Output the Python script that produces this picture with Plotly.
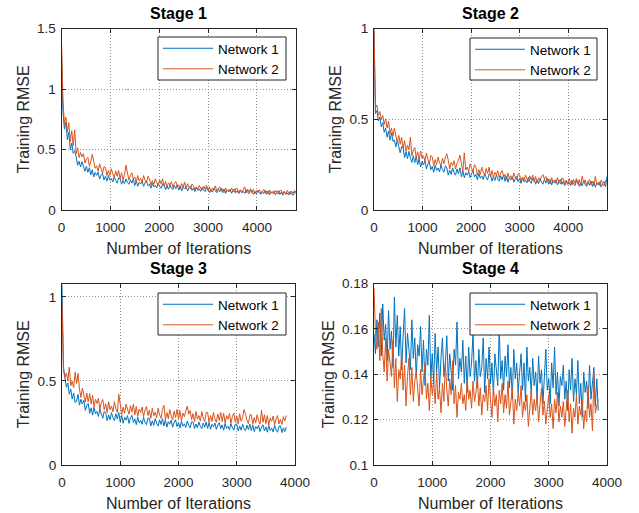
import plotly.graph_objects as go

# ---------------- data ----------------
STAGE_TITLES = ["Stage 1", "Stage 2", "Stage 3", "Stage 4"]
SERIES_NAMES = ["Network 1", "Network 2"]
X_LABEL = "Number of Iterations"
Y_LABEL = "Training RMSE"

ITER_STEP_S12 = 30   # iterations between samples, stages 1-2
ITER_STEP_S34 = 25   # iterations between samples, stages 3-4

S1_N1 = [1.302, 0.812, 0.668, 0.724, 0.582, 0.641, 0.498, 0.552, 0.468, 0.489,
         0.440, 0.370, 0.402, 0.356, 0.400, 0.351, 0.320, 0.361, 0.312, 0.350,
         0.290, 0.333, 0.273, 0.310, 0.286, 0.313, 0.255, 0.287, 0.302, 0.248,
         0.280, 0.238, 0.286, 0.246, 0.261, 0.232, 0.277, 0.243, 0.222, 0.265,
         0.257, 0.213, 0.244, 0.217, 0.257, 0.228, 0.213, 0.250, 0.222, 0.257,
         0.203, 0.240, 0.196, 0.229, 0.214, 0.238, 0.196, 0.225, 0.240, 0.200,
         0.212, 0.180, 0.220, 0.190, 0.204, 0.182, 0.220, 0.194, 0.180, 0.216,
         0.208, 0.168, 0.196, 0.172, 0.208, 0.182, 0.168, 0.202, 0.176, 0.208,
         0.164, 0.198, 0.158, 0.188, 0.174, 0.196, 0.158, 0.184, 0.198, 0.162,
         0.181, 0.152, 0.188, 0.161, 0.174, 0.154, 0.188, 0.165, 0.152, 0.184,
         0.180, 0.144, 0.169, 0.148, 0.180, 0.157, 0.144, 0.175, 0.151, 0.180,
         0.143, 0.174, 0.138, 0.165, 0.152, 0.172, 0.138, 0.161, 0.174, 0.142,
         0.161, 0.135, 0.167, 0.143, 0.154, 0.137, 0.167, 0.146, 0.135, 0.164,
         0.162, 0.130, 0.152, 0.133, 0.162, 0.141, 0.130, 0.157, 0.136, 0.162,
         0.131, 0.158, 0.126, 0.150, 0.139, 0.156, 0.126, 0.147, 0.158, 0.129,
         0.148, 0.122, 0.154, 0.130, 0.141, 0.124, 0.154, 0.133, 0.122, 0.151,
         0.136]
S1_N2 = [1.395, 0.902, 0.712, 0.768, 0.642, 0.721, 0.568, 0.655, 0.531, 0.662,
         0.465, 0.514, 0.433, 0.475, 0.439, 0.466, 0.388, 0.423, 0.436, 0.362,
         0.401, 0.460, 0.404, 0.345, 0.365, 0.320, 0.382, 0.330, 0.301, 0.358,
         0.352, 0.285, 0.327, 0.286, 0.341, 0.296, 0.271, 0.323, 0.279, 0.327,
         0.257, 0.308, 0.248, 0.293, 0.372, 0.305, 0.248, 0.287, 0.308, 0.254,
         0.273, 0.225, 0.285, 0.240, 0.261, 0.228, 0.285, 0.246, 0.225, 0.279,
         0.258, 0.206, 0.242, 0.211, 0.258, 0.224, 0.206, 0.250, 0.216, 0.258,
         0.195, 0.236, 0.188, 0.224, 0.207, 0.234, 0.188, 0.219, 0.236, 0.193,
         0.209, 0.174, 0.218, 0.185, 0.232, 0.176, 0.218, 0.189, 0.174, 0.214,
         0.204, 0.164, 0.192, 0.168, 0.204, 0.178, 0.164, 0.198, 0.172, 0.204,
         0.158, 0.192, 0.152, 0.182, 0.168, 0.200, 0.152, 0.178, 0.192, 0.156,
         0.175, 0.146, 0.182, 0.155, 0.168, 0.148, 0.182, 0.159, 0.146, 0.178,
         0.176, 0.140, 0.165, 0.144, 0.176, 0.192, 0.140, 0.171, 0.147, 0.176,
         0.139, 0.170, 0.134, 0.161, 0.148, 0.168, 0.134, 0.157, 0.170, 0.138,
         0.158, 0.131, 0.165, 0.139, 0.151, 0.133, 0.165, 0.143, 0.131, 0.162,
         0.162, 0.128, 0.152, 0.131, 0.162, 0.140, 0.128, 0.157, 0.135, 0.162,
         0.148]

S2_N1 = [0.985, 0.532, 0.548, 0.491, 0.512, 0.458, 0.481, 0.428, 0.452, 0.401,
         0.435, 0.385, 0.425, 0.378, 0.385, 0.348, 0.385, 0.343, 0.315, 0.350,
         0.345, 0.289, 0.319, 0.283, 0.323, 0.285, 0.262, 0.299, 0.261, 0.295,
         0.250, 0.284, 0.237, 0.268, 0.250, 0.271, 0.226, 0.253, 0.265, 0.222,
         0.240, 0.208, 0.248, 0.218, 0.232, 0.210, 0.248, 0.222, 0.208, 0.244,
         0.232, 0.192, 0.220, 0.196, 0.232, 0.206, 0.192, 0.226, 0.200, 0.232,
         0.183, 0.214, 0.178, 0.205, 0.192, 0.212, 0.178, 0.201, 0.214, 0.182,
         0.195, 0.166, 0.202, 0.175, 0.188, 0.168, 0.202, 0.179, 0.166, 0.198,
         0.193, 0.159, 0.183, 0.162, 0.193, 0.171, 0.159, 0.188, 0.166, 0.193,
         0.158, 0.185, 0.153, 0.177, 0.166, 0.183, 0.153, 0.174, 0.185, 0.156,
         0.173, 0.147, 0.179, 0.155, 0.166, 0.149, 0.179, 0.158, 0.147, 0.176,
         0.174, 0.142, 0.164, 0.145, 0.174, 0.153, 0.142, 0.169, 0.148, 0.174,
         0.142, 0.168, 0.138, 0.161, 0.150, 0.167, 0.138, 0.158, 0.168, 0.141,
         0.158, 0.134, 0.164, 0.141, 0.152, 0.135, 0.164, 0.144, 0.134, 0.161,
         0.160, 0.130, 0.151, 0.133, 0.160, 0.140, 0.130, 0.156, 0.136, 0.160,
         0.130, 0.156, 0.126, 0.149, 0.138, 0.155, 0.126, 0.146, 0.156, 0.129,
         0.185]
S2_N2 = [0.998, 0.562, 0.578, 0.521, 0.542, 0.498, 0.521, 0.472, 0.502, 0.451,
         0.490, 0.420, 0.452, 0.406, 0.450, 0.401, 0.370, 0.411, 0.362, 0.400,
         0.340, 0.382, 0.321, 0.357, 0.332, 0.402, 0.299, 0.329, 0.344, 0.288,
         0.321, 0.276, 0.325, 0.284, 0.299, 0.268, 0.314, 0.278, 0.257, 0.301,
         0.292, 0.244, 0.278, 0.249, 0.292, 0.261, 0.244, 0.285, 0.254, 0.292,
         0.310, 0.274, 0.226, 0.262, 0.245, 0.272, 0.226, 0.257, 0.274, 0.302,
         0.245, 0.210, 0.315, 0.221, 0.236, 0.212, 0.254, 0.225, 0.210, 0.250,
         0.236, 0.192, 0.223, 0.196, 0.236, 0.207, 0.192, 0.229, 0.201, 0.236,
         0.184, 0.218, 0.178, 0.208, 0.194, 0.216, 0.178, 0.204, 0.218, 0.182,
         0.196, 0.166, 0.204, 0.175, 0.189, 0.168, 0.204, 0.179, 0.166, 0.200,
         0.193, 0.157, 0.182, 0.161, 0.193, 0.170, 0.157, 0.188, 0.164, 0.193,
         0.154, 0.185, 0.149, 0.176, 0.163, 0.183, 0.195, 0.172, 0.185, 0.153,
         0.171, 0.144, 0.178, 0.152, 0.164, 0.146, 0.178, 0.156, 0.144, 0.175,
         0.173, 0.139, 0.163, 0.142, 0.173, 0.151, 0.139, 0.168, 0.146, 0.173,
         0.141, 0.168, 0.136, 0.188, 0.149, 0.166, 0.136, 0.157, 0.168, 0.139,
         0.159, 0.133, 0.185, 0.141, 0.152, 0.135, 0.165, 0.144, 0.133, 0.162,
         0.155]

S3_N1 = [1.072, 0.582, 0.521, 0.462, 0.488, 0.421, 0.452, 0.392, 0.428, 0.371,
         0.380, 0.420, 0.356, 0.391, 0.363, 0.386, 0.325, 0.354, 0.366, 0.308,
         0.340, 0.297, 0.344, 0.305, 0.319, 0.289, 0.333, 0.299, 0.278, 0.320,
         0.312, 0.264, 0.298, 0.269, 0.312, 0.281, 0.264, 0.305, 0.274, 0.312,
         0.255, 0.296, 0.248, 0.284, 0.267, 0.294, 0.248, 0.279, 0.296, 0.253,
         0.275, 0.240, 0.284, 0.251, 0.266, 0.242, 0.284, 0.255, 0.240, 0.280,
         0.276, 0.232, 0.263, 0.236, 0.276, 0.247, 0.232, 0.269, 0.241, 0.276,
         0.232, 0.269, 0.225, 0.258, 0.243, 0.267, 0.225, 0.254, 0.269, 0.229,
         0.253, 0.221, 0.261, 0.231, 0.245, 0.223, 0.261, 0.235, 0.221, 0.257,
         0.256, 0.216, 0.244, 0.220, 0.256, 0.230, 0.216, 0.250, 0.224, 0.256,
         0.218, 0.252, 0.212, 0.242, 0.228, 0.250, 0.212, 0.238, 0.252, 0.216,
         0.239, 0.207, 0.247, 0.217, 0.231, 0.209, 0.247, 0.221, 0.207, 0.243,
         0.243, 0.203, 0.231, 0.207, 0.243, 0.217, 0.203, 0.237, 0.211, 0.243,
         0.205, 0.239, 0.199, 0.229, 0.215, 0.237, 0.199, 0.225, 0.239, 0.203,
         0.227, 0.195, 0.235, 0.205, 0.219, 0.197, 0.235, 0.209, 0.195, 0.231,
         0.233, 0.193, 0.221, 0.199, 0.226]
S3_N2 = [0.968, 0.562, 0.521, 0.548, 0.501, 0.582, 0.472, 0.498, 0.461, 0.552,
         0.485, 0.545, 0.451, 0.402, 0.458, 0.406, 0.375, 0.428, 0.376, 0.425,
         0.363, 0.414, 0.346, 0.391, 0.366, 0.397, 0.333, 0.372, 0.390, 0.329,
         0.364, 0.313, 0.377, 0.329, 0.351, 0.316, 0.377, 0.335, 0.313, 0.420,
         0.362, 0.302, 0.344, 0.308, 0.362, 0.323, 0.302, 0.353, 0.314, 0.362,
         0.297, 0.348, 0.288, 0.333, 0.312, 0.345, 0.288, 0.327, 0.348, 0.294,
         0.326, 0.278, 0.338, 0.293, 0.314, 0.281, 0.338, 0.299, 0.278, 0.332,
         0.355, 0.270, 0.312, 0.276, 0.330, 0.291, 0.270, 0.321, 0.282, 0.330,
         0.273, 0.324, 0.264, 0.309, 0.288, 0.321, 0.350, 0.303, 0.324, 0.270,
         0.306, 0.258, 0.318, 0.273, 0.294, 0.261, 0.318, 0.279, 0.258, 0.312,
         0.313, 0.253, 0.295, 0.259, 0.313, 0.274, 0.253, 0.304, 0.265, 0.313,
         0.258, 0.309, 0.249, 0.294, 0.273, 0.306, 0.249, 0.288, 0.309, 0.255,
         0.293, 0.245, 0.305, 0.260, 0.281, 0.330, 0.305, 0.266, 0.245, 0.299,
         0.299, 0.243, 0.282, 0.249, 0.299, 0.263, 0.243, 0.325, 0.254, 0.299,
         0.246, 0.294, 0.238, 0.280, 0.260, 0.291, 0.238, 0.274, 0.294, 0.244,
         0.272, 0.241, 0.288, 0.262, 0.295]

S4_N1 = [0.158, 0.149, 0.164, 0.152, 0.167, 0.148, 0.171, 0.155, 0.162, 0.146,
         0.168, 0.151, 0.159, 0.143, 0.174, 0.152, 0.166, 0.148, 0.161, 0.142,
         0.157, 0.169, 0.145, 0.158, 0.151, 0.142, 0.164, 0.147, 0.156, 0.139,
         0.153, 0.148, 0.161, 0.141, 0.155, 0.135, 0.151, 0.144, 0.166, 0.138,
         0.149, 0.136, 0.158, 0.141, 0.152, 0.134, 0.147, 0.156, 0.139, 0.145,
         0.157, 0.137, 0.149, 0.142, 0.133, 0.151, 0.144, 0.163, 0.138, 0.147,
         0.141, 0.155, 0.136, 0.148, 0.132, 0.152, 0.139, 0.145, 0.158, 0.137,
         0.146, 0.134, 0.151, 0.139, 0.143, 0.156, 0.132, 0.147, 0.138, 0.152,
         0.136, 0.145, 0.131, 0.149, 0.141, 0.135, 0.161, 0.138, 0.146, 0.133,
         0.148, 0.139, 0.153, 0.134, 0.143, 0.129, 0.151, 0.138, 0.145, 0.132,
         0.141, 0.149, 0.133, 0.145, 0.128, 0.152, 0.137, 0.143, 0.131, 0.147,
         0.135, 0.141, 0.129, 0.148, 0.136, 0.142, 0.127, 0.139, 0.151, 0.133,
         0.138, 0.127, 0.145, 0.134, 0.152, 0.131, 0.141, 0.126, 0.139, 0.135,
         0.144, 0.129, 0.137, 0.124, 0.142, 0.133, 0.147, 0.128, 0.138, 0.131,
         0.146, 0.127, 0.136, 0.121, 0.141, 0.132, 0.137, 0.125, 0.144, 0.129,
         0.135, 0.143, 0.126, 0.138, 0.124]
S4_N2 = [0.178, 0.158, 0.151, 0.163, 0.146, 0.169, 0.149, 0.141, 0.156, 0.137,
         0.151, 0.143, 0.139, 0.155, 0.134, 0.147, 0.128, 0.142, 0.138, 0.149,
         0.133, 0.144, 0.126, 0.139, 0.147, 0.131, 0.143, 0.128, 0.137, 0.141,
         0.135, 0.126, 0.142, 0.131, 0.138, 0.145, 0.129, 0.136, 0.124, 0.139,
         0.131, 0.137, 0.127, 0.141, 0.129, 0.134, 0.123, 0.136, 0.128, 0.145,
         0.133, 0.126, 0.138, 0.131, 0.146, 0.127, 0.135, 0.121, 0.132, 0.129,
         0.136, 0.127, 0.131, 0.124, 0.138, 0.129, 0.133, 0.125, 0.137, 0.128,
         0.132, 0.139, 0.126, 0.134, 0.122, 0.131, 0.128, 0.135, 0.124, 0.138,
         0.129, 0.121, 0.134, 0.126, 0.131, 0.119, 0.133, 0.127, 0.136, 0.123,
         0.131, 0.125, 0.137, 0.122, 0.128, 0.134, 0.118, 0.129, 0.124, 0.132,
         0.126, 0.135, 0.121, 0.128, 0.124, 0.131, 0.117, 0.127, 0.133, 0.122,
         0.129, 0.124, 0.131, 0.119, 0.126, 0.134, 0.122, 0.128, 0.118, 0.125,
         0.131, 0.121, 0.127, 0.116, 0.129, 0.123, 0.132, 0.119, 0.126, 0.121,
         0.128, 0.117, 0.124, 0.133, 0.119, 0.127, 0.114, 0.125, 0.121, 0.131,
         0.118, 0.126, 0.122, 0.129, 0.116, 0.124, 0.119, 0.135, 0.121, 0.127,
         0.115, 0.141, 0.123, 0.126, 0.129]

X_TICKS_S12 = [0, 1000, 2000, 3000, 4000]
X_TICKS_S34 = [0, 1000, 2000, 3000, 4000]
Y_TICKS_S1 = [0, 0.5, 1, 1.5]
Y_TICKS_S2 = [0, 0.5, 1]
Y_TICKS_S3 = [0, 0.5, 1]
Y_TICKS_S4 = [0.1, 0.12, 0.14, 0.16, 0.18]
Y_TICKTEXT_S1 = ["0", "0.5", "1", "1.5"]
Y_TICKTEXT_S2 = ["0", "0.5", "1"]
Y_TICKTEXT_S3 = ["0", "0.5", "1"]
Y_TICKTEXT_S4 = ["0.1", "0.12", "0.14", "0.16", "0.18"]

# ---------------- styling ----------------
W, H = 639, 513
BLUE = "#0072BD"
ORANGE = "#D95319"
AX_COL = "#262626"
FONT = "Liberation Sans, Arial, Helvetica, sans-serif"


def px_dom_x(a, b):
    return [a / W, b / W]


def px_dom_y(top, bottom):
    return [1 - bottom / H, 1 - top / H]


panels = [
    dict(title=STAGE_TITLES[0], n1=S1_N1, n2=S1_N2, step=ITER_STEP_S12, xr=[0, 4800],
         yr=[0, 1.5], xt=X_TICKS_S12, yt=Y_TICKS_S1, ytt=Y_TICKTEXT_S1,
         dx=px_dom_x(61.5, 296), dy=px_dom_y(28.5, 210), box=(158, 286, 37, 80)),
    dict(title=STAGE_TITLES[1], n1=S2_N1, n2=S2_N2, step=ITER_STEP_S12, xr=[0, 4800],
         yr=[0, 1.0], xt=X_TICKS_S12, yt=Y_TICKS_S2, ytt=Y_TICKTEXT_S2,
         dx=px_dom_x(374, 607), dy=px_dom_y(28.5, 210), box=(470, 597, 38, 80)),
    dict(title=STAGE_TITLES[2], n1=S3_N1, n2=S3_N2, step=ITER_STEP_S34, xr=[0, 4000],
         yr=[0, 1.08], xt=X_TICKS_S34, yt=Y_TICKS_S3, ytt=Y_TICKTEXT_S3,
         dx=px_dom_x(62, 295), dy=px_dom_y(283.5, 465), box=(158, 286, 293, 335)),
    dict(title=STAGE_TITLES[3], n1=S4_N1, n2=S4_N2, step=ITER_STEP_S34, xr=[0, 4000],
         yr=[0.1, 0.18], xt=X_TICKS_S34, yt=Y_TICKS_S4, ytt=Y_TICKTEXT_S4,
         dx=px_dom_x(374, 607), dy=px_dom_y(283.5, 465), box=(470, 597, 293, 335)),
]

fig = go.Figure()
layout = dict(
    width=W, height=H,
    margin=dict(l=0, r=0, t=0, b=0, pad=0, autoexpand=False),
    paper_bgcolor="white", plot_bgcolor="white",
    font=dict(family=FONT, size=13, color=AX_COL),
    showlegend=True,
    annotations=[], shapes=[],
)

for i, p in enumerate(panels):
    k = "" if i == 0 else str(i + 1)
    xa, ya = "x" + k, "y" + k
    legname = "legend" if i == 0 else "legend" + str(i + 1)
    for name, ys, col in ((SERIES_NAMES[0], p["n1"], BLUE), (SERIES_NAMES[1], p["n2"], ORANGE)):
        xs = [j * p["step"] for j in range(len(ys))]
        fig.add_trace(go.Scatter(x=xs, y=ys, mode="lines", name=name,
                                 line=dict(color=col, width=1),
                                 xaxis=xa, yaxis=ya, legend=legname))
    axis_common = dict(
        showline=True, linecolor=AX_COL, linewidth=1, mirror="ticks",
        ticks="inside", ticklen=4, tickcolor=AX_COL, tickwidth=1,
        showgrid=True, gridcolor="#8f8f8f", griddash="1px,2px", gridwidth=1,
        zeroline=False, tickfont=dict(family=FONT, size=13.5, color=AX_COL),
        fixedrange=True, automargin=False,
    )
    layout["xaxis" + k] = dict(
        axis_common, domain=p["dx"], range=p["xr"], anchor=ya,
        tickvals=p["xt"], ticktext=[str(v) for v in p["xt"]], ticklabelstandoff=5,
        title=dict(text=X_LABEL, font=dict(family=FONT, size=16, color=AX_COL), standoff=8),
    )
    layout["yaxis" + k] = dict(
        axis_common, domain=p["dy"], range=p["yr"], anchor=xa,
        tickvals=p["yt"], ticktext=p["ytt"], ticklabelstandoff=2,
        title=dict(text=Y_LABEL, font=dict(family=FONT, size=16, color=AX_COL), standoff=3),
    )
    bx0, bx1, by0, by1 = p["box"]
    # legend frame (white box with dark border), drawn above the curves
    layout["shapes"].append(dict(
        type="rect", xref="paper", yref="paper", layer="above",
        x0=bx0 / W, x1=bx1 / W, y0=1 - by1 / H, y1=1 - by0 / H,
        fillcolor="white", line=dict(color=AX_COL, width=1),
    ))
    layout[legname] = dict(
        x=bx0 / W, y=1 - (by0 - 4) / H, xanchor="left", yanchor="top",
        bgcolor="rgba(0,0,0,0)", borderwidth=0,
        font=dict(family=FONT, size=13.5, color="black"),
        itemwidth=50, tracegroupgap=0,
    )
    layout["annotations"].append(dict(
        text="<b>" + p["title"] + "</b>", xref="paper", yref="paper",
        x=(p["dx"][0] + p["dx"][1]) / 2, y=p["dy"][1] + 4.5 / H,
        xanchor="center", yanchor="bottom", showarrow=False,
        font=dict(family=FONT, size=16, color="black"),
    ))

fig.update_layout(**layout)
fig.write_html(
    "out.html",
    config={"displayModeBar": False},
    post_script="document.body.style.margin='0';document.body.style.overflow='hidden';",
)
